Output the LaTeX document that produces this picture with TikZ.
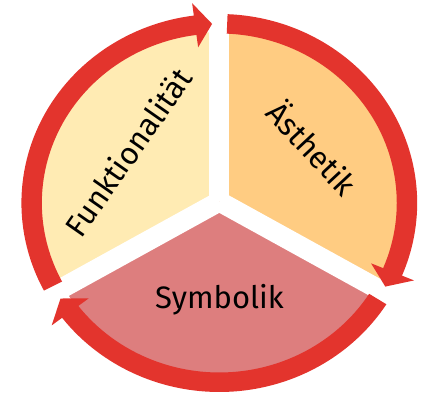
\documentclass[tikz,border=0pt]{standalone}
\usepackage{fontspec}
\setmainfont{Fira Sans}
\usetikzlibrary{calc}

\definecolor{funkcol}{HTML}{FFEBB3}
\definecolor{aestcol}{HTML}{FFCC82}
\definecolor{symbcol}{HTML}{DD7E7E}
\definecolor{arrowred}{HTML}{E3342D}

% one thick curved arrow of the cycle: #1 = start angle, #2 = tip angle (clockwise)
\newcommand{\ringarrow}[2]{%
  \pgfmathsetmacro{\baseang}{#2+5.2}%
  \fill[arrowred] (#1:189) arc[start angle=#1, end angle=\baseang, radius=189]
    -- (\baseang:201.5) -- (#2:179.25) -- (\baseang:157) -- (\baseang:169.5)
    arc[start angle=\baseang, end angle=#1, radius=169.5] -- cycle;
}

\tikzset{
  label text/.style={font=\fontsize{31}{35}\selectfont, text=black, inner sep=0pt},
  gap/.style={draw=white, line width=20pt}
}

\begin{document}
\begin{tikzpicture}[x=1pt,y=1pt]
\useasboundingbox (0,0) rectangle (425,396);

\begin{scope}[shift={(219.3,193)}, xscale=1.047]
  \coordinate (hub) at (0,1.5);
  % three sectors
  \begin{scope}
    \clip (0,0) circle (171);
    \fill[funkcol] (hub) -- ($(hub)+(90:300)$) -- ($(hub)+(150:400)$) -- ($(hub)+(210:300)$) -- cycle;
    \fill[aestcol] (hub) -- ($(hub)+(90:300)$) -- ($(hub)+(30:400)$) -- ($(hub)+(-30:300)$) -- cycle;
    \fill[symbcol] (hub) -- ($(hub)+(210:300)$) -- ($(hub)+(270:400)$) -- ($(hub)+(-30:300)$) -- cycle;
  \end{scope}
  % white separations
  \draw[gap] (hub) -- ($(hub)+(90:180)$);
  \draw[gap] (hub) -- ($(hub)+(210:180)$);
  \draw[gap] (hub) -- ($(hub)+(-30:180)$);
  % the cycle of arrows
  \ringarrow{207.6}{92.2}
  \ringarrow{87.6}{-27.8}
  \ringarrow{-32.4}{-147.8}
\end{scope}

\node[label text, rotate=55] (funk) at (128,244) {Funktionalität};
\node[label text, rotate=-47] (aest) at (313.5,249) {Ästhetik};
\node[label text, anchor=base] (symb) at (219.5,87.7) {Symbolik};
\end{tikzpicture}
\end{document}
